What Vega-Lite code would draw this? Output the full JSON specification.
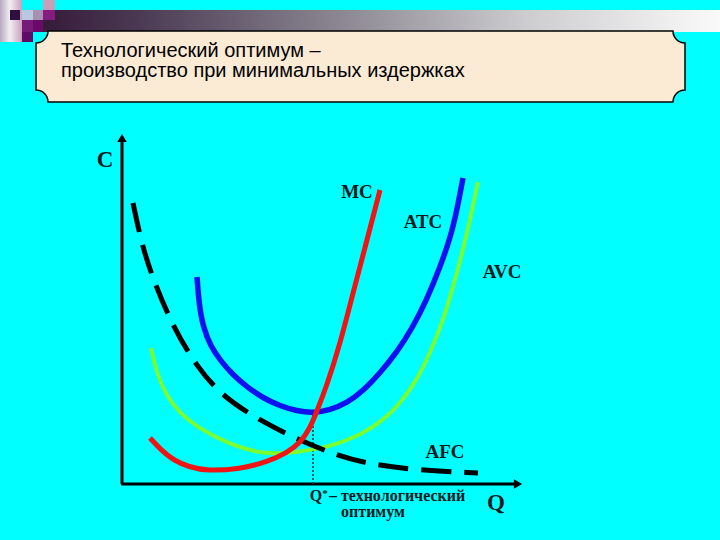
{
  "$schema": "https://vega.github.io/schema/vega-lite/v6.json",
  "width": 720,
  "height": 540,
  "autosize": {"type": "fit", "contains": "padding"},
  "padding": 0,
  "background": "#00FFFF",
  "config": {"view": {"stroke": null}},
  "datasets": {
    "strip": [{"q": -121, "c": 484, "q2": -99, "c2": 442}],
    "bar": [{"q": -88, "c": 474, "q2": 599, "c2": 452}],
    "squares": [
      {"part": "dark", "q": -111, "c": 474, "q2": -101, "c2": 464},
      {"part": "lav", "q": -88, "c": 474, "q2": -78, "c2": 464},
      {"part": "pale", "q": -99, "c": 474, "q2": -88, "c2": 464},
      {"part": "pink", "q": -78, "c": 484, "q2": -66, "c2": 474},
      {"part": "p1", "q": -78, "c": 474, "q2": -66, "c2": 464},
      {"part": "p2", "q": -99, "c": 464, "q2": -88, "c2": 452},
      {"part": "p3", "q": -88, "c": 464, "q2": -78, "c2": 452},
      {"part": "p4", "q": -99, "c": 452, "q2": -88, "c2": 442}
    ],
    "box": [{"q": 239.5, "c": 417.5}],
    "title": [
      {"q": -60, "c": 427, "text": "Технологический оптимум –"},
      {"q": -60, "c": 407, "text": "производство при минимальных издержках"}
    ],
    "axes": [
      {"q": 1, "c": 0, "q2": 1, "c2": 344},
      {"q": 0, "c": 0, "q2": 396, "c2": 0}
    ],
    "arrowUp": [{"q": 1, "c": 346}],
    "arrowRight": [{"q": 397, "c": 0}],
    "drop": [{"q": 192, "c": 0, "q2": 192, "c2": 72}],
    "curves": [
      {"s": "AVC", "q": 30, "c": 136}, {"s": "AVC", "q": 36, "c": 110}, {"s": "AVC", "q": 46, "c": 87}, {"s": "AVC", "q": 60, "c": 70},
      {"s": "AVC", "q": 76, "c": 57}, {"s": "AVC", "q": 109, "c": 39}, {"s": "AVC", "q": 146, "c": 29}, {"s": "AVC", "q": 176, "c": 32},
      {"s": "AVC", "q": 209, "c": 37}, {"s": "AVC", "q": 242, "c": 50}, {"s": "AVC", "q": 262, "c": 64}, {"s": "AVC", "q": 276, "c": 77},
      {"s": "AVC", "q": 295, "c": 102}, {"s": "AVC", "q": 309, "c": 131}, {"s": "AVC", "q": 322, "c": 163}, {"s": "AVC", "q": 332, "c": 197},
      {"s": "AVC", "q": 341, "c": 230}, {"s": "AVC", "q": 349, "c": 264}, {"s": "AVC", "q": 357, "c": 302},
      {"s": "ATC", "q": 76, "c": 207}, {"s": "ATC", "q": 78, "c": 180}, {"s": "ATC", "q": 82, "c": 157}, {"s": "ATC", "q": 90, "c": 137},
      {"s": "ATC", "q": 99, "c": 124}, {"s": "ATC", "q": 112, "c": 109}, {"s": "ATC", "q": 126, "c": 97}, {"s": "ATC", "q": 142, "c": 86}, {"s": "ATC", "q": 159, "c": 78},
      {"s": "ATC", "q": 176, "c": 73}, {"s": "ATC", "q": 192, "c": 71}, {"s": "ATC", "q": 209, "c": 74}, {"s": "ATC", "q": 226, "c": 81}, {"s": "ATC", "q": 242, "c": 93}, {"s": "ATC", "q": 259, "c": 111},
      {"s": "ATC", "q": 276, "c": 132}, {"s": "ATC", "q": 292, "c": 157}, {"s": "ATC", "q": 306, "c": 185}, {"s": "ATC", "q": 319, "c": 217}, {"s": "ATC", "q": 329, "c": 245}, {"s": "ATC", "q": 336, "c": 274},
      {"s": "ATC", "q": 342, "c": 306},
      {"s": "AFC", "q": 12, "c": 281}, {"s": "AFC", "q": 20, "c": 243}, {"s": "AFC", "q": 31, "c": 207}, {"s": "AFC", "q": 52, "c": 157},
      {"s": "AFC", "q": 76, "c": 117}, {"s": "AFC", "q": 102, "c": 87}, {"s": "AFC", "q": 140, "c": 63},
      {"s": "AFC", "q": 172, "c": 47}, {"s": "AFC", "q": 209, "c": 31}, {"s": "AFC", "q": 242, "c": 21},
      {"s": "AFC", "q": 292, "c": 14}, {"s": "AFC", "q": 357, "c": 11},
      {"s": "MC", "q": 29, "c": 46}, {"s": "MC", "q": 40, "c": 34}, {"s": "MC", "q": 52, "c": 24}, {"s": "MC", "q": 68, "c": 17}, {"s": "MC", "q": 86, "c": 13},
      {"s": "MC", "q": 119, "c": 15}, {"s": "MC", "q": 146, "c": 22}, {"s": "MC", "q": 166, "c": 31}, {"s": "MC", "q": 180, "c": 42},
      {"s": "MC", "q": 189, "c": 56}, {"s": "MC", "q": 196, "c": 73}, {"s": "MC", "q": 206, "c": 99},
      {"s": "MC", "q": 219, "c": 140}, {"s": "MC", "q": 232, "c": 191}, {"s": "MC", "q": 246, "c": 244},
      {"s": "MC", "q": 259, "c": 294}
    ],
    "curveLabels": [
      {"q": 236, "c": 292, "text": "MC"},
      {"q": 302, "c": 262, "text": "ATC"},
      {"q": 381, "c": 212, "text": "AVC"},
      {"q": 324, "c": 32, "text": "AFC"}
    ],
    "axisLabels": [
      {"q": -16, "c": 324, "text": "C"},
      {"q": 375, "c": -19, "text": "Q"}
    ],
    "qstar": [{"q": 195, "c": -12, "text": "Q"}],
    "star": [{"q": 204, "c": -10, "text": "*"}],
    "noteLeft": [{"q": 208, "c": -12, "text": "– технологический"}],
    "noteCenter": [{"q": 252, "c": -28, "text": "оптимум"}]
  },
  "encoding": {
    "x": {"field": "q", "type": "quantitative", "scale": {"domain": [-121, 599], "nice": false, "zero": false}, "axis": null},
    "y": {"field": "c", "type": "quantitative", "scale": {"domain": [-56, 484], "nice": false, "zero": false}, "axis": null}
  },
  "layer": [
    {
      "data": {"name": "strip"},
      "mark": {"type": "rect", "fill": {"gradient": "linear", "x1": 0, "x2": 1, "y1": 0, "y2": 0, "stops": [{"offset": 0, "color": "#B8A8C0"}, {"offset": 0.45, "color": "#F2EEF2"}, {"offset": 1, "color": "#C8A0C0"}]}},
      "encoding": {"x2": {"field": "q2"}, "y2": {"field": "c2"}}
    },
    {
      "data": {"name": "bar"},
      "mark": {"type": "rect", "fill": {"gradient": "linear", "x1": 0, "x2": 1, "y1": 0, "y2": 0, "stops": [{"offset": 0, "color": "#341838"}, {"offset": 0.15, "color": "#4A3852"}, {"offset": 0.42, "color": "#85808C"}, {"offset": 0.72, "color": "#CDCDD0"}, {"offset": 1, "color": "#FAFAFA"}]}},
      "encoding": {"x2": {"field": "q2"}, "y2": {"field": "c2"}}
    },
    {
      "data": {"name": "squares"},
      "mark": {"type": "rect"},
      "encoding": {
        "x2": {"field": "q2"}, "y2": {"field": "c2"},
        "color": {"field": "part", "type": "nominal", "legend": null,
          "scale": {"domain": ["dark", "lav", "pale", "pink", "p1", "p2", "p3", "p4"],
                    "range": ["#2D1040", "#A890B0", "#B8C8E0", "#C8A0B8", "#861C80", "#7A1A78", "#6A0A68", "#5E0C66"]}}
      }
    },
    {
      "data": {"name": "box"},
      "mark": {"type": "point", "filled": true, "fill": "#FBEBD5", "fillOpacity": 1, "stroke": "#000000", "strokeWidth": 1.5, "opacity": 1, "size": 421201,
        "shape": "M -0.963 -0.1094 L 0.963 -0.1094 C 0.963 -0.089 0.9796 -0.0724 1 -0.0724 L 1 0.0724 C 0.9796 0.0724 0.963 0.089 0.963 0.1094 L -0.963 0.1094 C -0.963 0.089 -0.9796 0.0724 -1 0.0724 L -1 -0.0724 C -0.9796 -0.0724 -0.963 -0.089 -0.963 -0.1094 Z"}
    },
    {
      "data": {"name": "title"},
      "mark": {"type": "text", "align": "left", "baseline": "alphabetic", "font": "Liberation Sans", "fontSize": 20, "color": "#000000"},
      "encoding": {"text": {"field": "text"}}
    },
    {
      "data": {"name": "axes"},
      "mark": {"type": "rule", "color": "#000000", "strokeWidth": 3},
      "encoding": {"x2": {"field": "q2"}, "y2": {"field": "c2"}}
    },
    {
      "data": {"name": "arrowUp"},
      "mark": {"type": "point", "shape": "triangle-up", "filled": true, "color": "#000000", "opacity": 1, "size": 90}
    },
    {
      "data": {"name": "arrowRight"},
      "mark": {"type": "point", "shape": "triangle-right", "filled": true, "color": "#000000", "opacity": 1, "size": 90}
    },
    {
      "data": {"name": "drop"},
      "mark": {"type": "rule", "color": "#103030", "strokeWidth": 1.5, "strokeDash": [2, 2]},
      "encoding": {"x2": {"field": "q2"}, "y2": {"field": "c2"}}
    },
    {
      "data": {"name": "curves"},
      "transform": [{"filter": "datum.s === 'AVC'"}],
      "mark": {"type": "line", "interpolate": "basis", "color": "#7CFF2E", "strokeWidth": 4, "strokeCap": "butt"}
    },
    {
      "data": {"name": "curves"},
      "transform": [{"filter": "datum.s === 'ATC'"}],
      "mark": {"type": "line", "interpolate": "basis", "color": "#1010F0", "strokeWidth": 5.5, "strokeCap": "butt"}
    },
    {
      "data": {"name": "curves"},
      "transform": [{"filter": "datum.s === 'AFC'"}],
      "mark": {"type": "line", "interpolate": "basis", "color": "#000000", "strokeWidth": 5, "strokeDash": [30, 13], "strokeCap": "butt"}
    },
    {
      "data": {"name": "curves"},
      "transform": [{"filter": "datum.s === 'MC'"}],
      "mark": {"type": "line", "interpolate": "basis", "color": "#F01414", "strokeWidth": 5, "strokeCap": "butt"}
    },
    {
      "data": {"name": "curveLabels"},
      "mark": {"type": "text", "align": "center", "baseline": "middle", "font": "Liberation Serif", "fontWeight": "bold", "fontSize": 19, "color": "#061820"},
      "encoding": {"text": {"field": "text"}}
    },
    {
      "data": {"name": "axisLabels"},
      "mark": {"type": "text", "align": "center", "baseline": "middle", "font": "Liberation Serif", "fontWeight": "bold", "fontSize": 23, "color": "#061820"},
      "encoding": {"text": {"field": "text"}}
    },
    {
      "data": {"name": "qstar"},
      "mark": {"type": "text", "align": "center", "baseline": "middle", "font": "Liberation Serif", "fontWeight": "bold", "fontSize": 16, "color": "#061820"},
      "encoding": {"text": {"field": "text"}}
    },
    {
      "data": {"name": "star"},
      "mark": {"type": "text", "align": "center", "baseline": "middle", "font": "Liberation Serif", "fontWeight": "bold", "fontSize": 11, "color": "#061820"},
      "encoding": {"text": {"field": "text"}}
    },
    {
      "data": {"name": "noteLeft"},
      "mark": {"type": "text", "align": "left", "baseline": "middle", "font": "Liberation Serif", "fontWeight": "bold", "fontSize": 16, "color": "#061820"},
      "encoding": {"text": {"field": "text"}}
    },
    {
      "data": {"name": "noteCenter"},
      "mark": {"type": "text", "align": "center", "baseline": "middle", "font": "Liberation Serif", "fontWeight": "bold", "fontSize": 16, "color": "#061820"},
      "encoding": {"text": {"field": "text"}}
    }
  ]
}
